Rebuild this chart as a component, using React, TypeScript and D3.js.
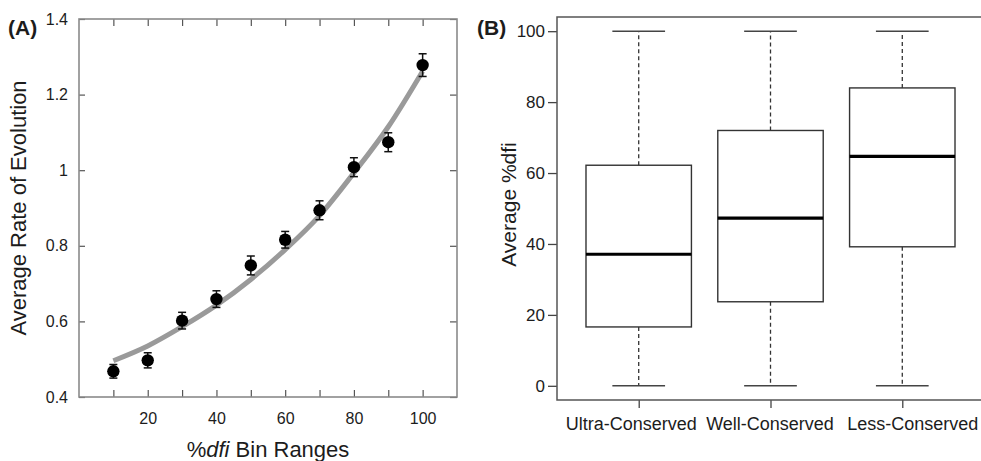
import React, { useEffect, useRef } from 'react';
import * as d3 from 'd3';

// panel A: binned rates with error bars and fitted curve
const binRanges = [10, 20, 30, 40, 50, 60, 70, 80, 90, 100];
const avgRate = [0.468, 0.497, 0.602, 0.659, 0.748, 0.816, 0.894, 1.008, 1.074, 1.278];
const rateErr = [0.018, 0.02, 0.022, 0.022, 0.025, 0.022, 0.025, 0.025, 0.025, 0.03];
const fitRate = [0.496, 0.535, 0.586, 0.643, 0.711, 0.79, 0.88, 0.993, 1.115, 1.262];
const rateTicks = [0.4, 0.6, 0.8, 1, 1.2, 1.4];
const binLabelTicks = [20, 40, 60, 80, 100];

// panel B: boxplots of %dfi
const groups = ['Ultra-Conserved', 'Well-Conserved', 'Less-Conserved'];
const whiskerLow = [0, 0, 0];
const q1 = [16.6, 23.7, 39.2];
const median = [37.1, 47.3, 64.7];
const q3 = [62.2, 72.0, 84.0];
const whiskerHigh = [100, 100, 100];
const dfiTicks = [0, 20, 40, 60, 80, 100];

const FONT = "'Liberation Sans', Arial, sans-serif";
const TEXT = '#1c1c1c';

export default function App() {
  const ref = useRef<SVGSVGElement>(null);

  useEffect(() => {
    const svg = d3.select(ref.current);
    svg.selectAll('*').remove();
    svg.attr('font-family', FONT);

    // ---------- panel A ----------
    const a = { left: 79, right: 457, top: 19, bottom: 397 };
    const x = d3.scaleLinear().domain([0, 110]).range([a.left, a.right]);
    const y = d3.scaleLinear().domain([0.4, 1.4]).range([a.bottom, a.top]);

    const gA = svg.append('g');

    const bottomAx = gA.append('g')
      .attr('transform', `translate(0,${a.bottom})`)
      .call(d3.axisBottom(x).tickValues(binRanges).tickSize(-7).tickPadding(16)
        .tickFormat(d => (binLabelTicks.includes(+d) ? String(d) : '')));
    const topAx = gA.append('g')
      .attr('transform', `translate(0,${a.top})`)
      .call(d3.axisTop(x).tickValues(binRanges).tickSize(-7).tickFormat(() => ''));
    const leftAx = gA.append('g')
      .attr('transform', `translate(${a.left},0)`)
      .call(d3.axisLeft(y).tickValues(rateTicks).tickSize(-6).tickPadding(11)
        .tickFormat(d => d3.format('~g')(+d)));
    const rightAx = gA.append('g')
      .attr('transform', `translate(${a.right},0)`)
      .call(d3.axisRight(y).tickValues(rateTicks).tickSize(-7).tickFormat(() => ''));

    [bottomAx, topAx, leftAx, rightAx].forEach(ax => {
      ax.select('.domain').remove();
      ax.selectAll('line').attr('stroke', '#555').attr('stroke-width', 1.2);
      ax.selectAll('text').attr('fill', TEXT).attr('font-size', 16).attr('font-family', FONT);
    });

    gA.append('rect')
      .attr('x', a.left).attr('y', a.top)
      .attr('width', a.right - a.left).attr('height', a.bottom - a.top)
      .attr('fill', 'none').attr('stroke', '#8a8a8a').attr('stroke-width', 1.6);

    const line = d3.line<number>()
      .x((_, i) => x(binRanges[i]))
      .y(d => y(d))
      .curve(d3.curveMonotoneX);
    gA.append('path')
      .attr('d', line(fitRate))
      .attr('fill', 'none').attr('stroke', '#9a9a9a').attr('stroke-width', 5);

    const pts = gA.append('g').selectAll('g').data(avgRate).join('g');
    pts.append('line')
      .attr('x1', (_, i) => x(binRanges[i])).attr('x2', (_, i) => x(binRanges[i]))
      .attr('y1', (d, i) => y(d - rateErr[i])).attr('y2', (d, i) => y(d + rateErr[i]))
      .attr('stroke', '#111').attr('stroke-width', 1.5);
    [-1, 1].forEach(s => {
      pts.append('line')
        .attr('x1', (_, i) => x(binRanges[i]) - 4).attr('x2', (_, i) => x(binRanges[i]) + 4)
        .attr('y1', (d, i) => y(d + s * rateErr[i])).attr('y2', (d, i) => y(d + s * rateErr[i]))
        .attr('stroke', '#111').attr('stroke-width', 1.5);
    });
    pts.append('circle')
      .attr('cx', (_, i) => x(binRanges[i])).attr('cy', d => y(d))
      .attr('r', 6.2).attr('fill', '#000');

    gA.append('text')
      .attr('transform', `translate(26,${(a.top + a.bottom) / 2}) rotate(-90)`)
      .attr('text-anchor', 'middle').attr('font-size', 22).attr('fill', TEXT)
      .text('Average Rate of Evolution');
    const xt = gA.append('text')
      .attr('x', (a.left + a.right) / 2).attr('y', 457)
      .attr('text-anchor', 'middle').attr('font-size', 22).attr('fill', TEXT);
    xt.append('tspan').text('%');
    xt.append('tspan').attr('font-style', 'italic').text('dfi');
    xt.append('tspan').text(' Bin Ranges');

    gA.append('text')
      .attr('x', 8).attr('y', 35)
      .attr('font-size', 21).attr('font-weight', 'bold').attr('fill', TEXT)
      .text('(A)');

    // ---------- panel B ----------
    const b = { left: 557, right: 984, top: 17, bottom: 400 };
    const bx = d3.scaleLinear().domain([0.38, 3.62]).range([b.left, b.right]);
    const by = d3.scaleLinear().domain([-4, 104]).range([b.bottom, b.top]);
    const unit = bx(1) - bx(0);
    const boxW = 0.8 * unit;
    const capW = 0.4 * unit;
    const labelShift = [-8, -1, 10];

    const gB = svg.append('g');

    const bLeft = gB.append('g')
      .attr('transform', `translate(${b.left},0)`)
      .call(d3.axisLeft(by).tickValues(dfiTicks).tickSize(9).tickPadding(3));
    const bBottom = gB.append('g')
      .attr('transform', `translate(0,${b.bottom})`)
      .call(d3.axisBottom(bx).tickValues([1, 2, 3]).tickSize(8).tickPadding(9)
        .tickFormat((_, i) => groups[i]));
    [bLeft, bBottom].forEach(ax => {
      ax.select('.domain').remove();
      ax.selectAll('line').attr('stroke', '#444').attr('stroke-width', 1.3);
      ax.selectAll('text').attr('fill', TEXT).attr('font-family', FONT);
    });
    bLeft.selectAll('text').attr('font-size', 17);
    bBottom.selectAll('text').attr('font-size', 18)
      .attr('dx', (_, i) => labelShift[i]);

    gB.append('rect')
      .attr('x', b.left).attr('y', b.top)
      .attr('width', b.right - b.left).attr('height', b.bottom - b.top)
      .attr('fill', 'none').attr('stroke', '#555').attr('stroke-width', 1.5);

    const boxes = gB.append('g').selectAll('g').data(groups).join('g');
    // whiskers
    boxes.append('line')
      .attr('x1', (_, i) => bx(i + 1)).attr('x2', (_, i) => bx(i + 1))
      .attr('y1', (_, i) => by(q3[i])).attr('y2', (_, i) => by(whiskerHigh[i]))
      .attr('stroke', '#333').attr('stroke-width', 1.3).attr('stroke-dasharray', '4,3');
    boxes.append('line')
      .attr('x1', (_, i) => bx(i + 1)).attr('x2', (_, i) => bx(i + 1))
      .attr('y1', (_, i) => by(q1[i])).attr('y2', (_, i) => by(whiskerLow[i]))
      .attr('stroke', '#333').attr('stroke-width', 1.3).attr('stroke-dasharray', '4,3');
    [whiskerHigh, whiskerLow].forEach(arr => {
      boxes.append('line')
        .attr('x1', (_, i) => bx(i + 1) - capW / 2).attr('x2', (_, i) => bx(i + 1) + capW / 2)
        .attr('y1', (_, i) => by(arr[i])).attr('y2', (_, i) => by(arr[i]))
        .attr('stroke', '#444').attr('stroke-width', 1.4);
    });
    boxes.append('rect')
      .attr('x', (_, i) => bx(i + 1) - boxW / 2)
      .attr('y', (_, i) => by(q3[i]))
      .attr('width', boxW)
      .attr('height', (_, i) => by(q1[i]) - by(q3[i]))
      .attr('fill', 'white').attr('stroke', '#333').attr('stroke-width', 1.4);
    boxes.append('line')
      .attr('x1', (_, i) => bx(i + 1) - boxW / 2).attr('x2', (_, i) => bx(i + 1) + boxW / 2)
      .attr('y1', (_, i) => by(median[i])).attr('y2', (_, i) => by(median[i]))
      .attr('stroke', '#000').attr('stroke-width', 3.2);

    gB.append('text')
      .attr('transform', `translate(516,${(b.top + b.bottom) / 2 - 4}) rotate(-90)`)
      .attr('text-anchor', 'middle').attr('font-size', 21).attr('fill', TEXT)
      .text('Average %dfi');

    gB.append('text')
      .attr('x', 477).attr('y', 35)
      .attr('font-size', 21).attr('font-weight', 'bold').attr('fill', TEXT)
      .text('(B)');
  }, []);

  return (
    <svg
      ref={ref}
      width={981}
      height={461}
      style={{ position: 'absolute', left: 0, top: 0, background: 'white' }}
    />
  );
}
